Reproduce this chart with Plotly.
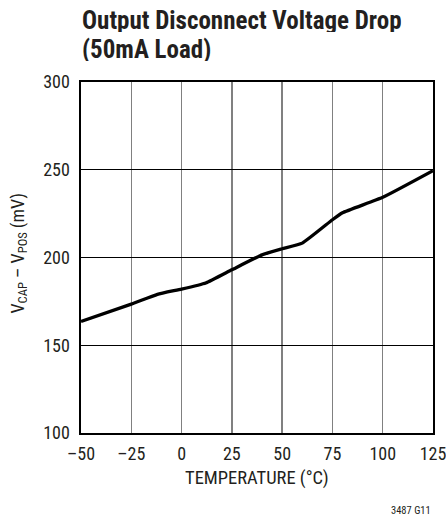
import plotly.graph_objects as go

temperature = [-50, -25, -12, 0, 12, 25, 40, 50, 60, 75, 80, 100, 125]
v_drop = [163.5, 173.4, 179.0, 182.0, 185.5, 193.0, 201.5, 205.0, 208.2, 221.5, 225.5, 234.3, 249.5]

x_tickvals = [-50, -25, 0, 25, 50, 75, 100, 125]
x_ticktext = ["–50", "–25", "0", "25", "50", "75", "100", "125"]
y_tickvals = [100, 150, 200, 250, 300]
y_ticktext = ["100", "150", "200", "250", "300"]

title_lines = ["Output Disconnect Voltage Drop", "(50mA Load)"]
x_title = "TEMPERATURE (°C)"
y_title = "V<sub>CAP</sub> – V<sub>POS</sub> (mV)"
fig_code = "3487 G11"

FONT = "Roboto Condensed, Roboto, sans-serif"
INK = "#231f20"

fig = go.Figure()
fig.add_trace(go.Scatter(
    x=temperature, y=v_drop, mode="lines",
    line=dict(color="black", width=3.3, shape="spline", smoothing=0.4),
    showlegend=False, hoverinfo="skip",
))

axis_common = dict(
    showgrid=True, showline=True, linecolor="black", linewidth=1.6, mirror=True,
    ticks="", zeroline=False, automargin=False, ticklabeloverflow="allow",
    tickfont=dict(family=FONT, size=18, color=INK),
)

fig.update_layout(
    width=446, height=516,
    margin=dict(l=81, r=13, t=82, b=83, autoexpand=False),
    paper_bgcolor="white", plot_bgcolor="white",
    font=dict(family=FONT, size=18, color=INK),
    xaxis=dict(range=[-50, 125], tickvals=x_tickvals, ticktext=x_ticktext,
               gridcolor="#808080", gridwidth=1.4, ticklabelstandoff=4, **axis_common),
    yaxis=dict(range=[100, 300], tickvals=y_tickvals, ticktext=y_ticktext,
               gridcolor="black", gridwidth=1.1, ticklabelstandoff=6, **axis_common),
    annotations=[
        dict(text="<b>" + title_lines[0] + "</b>", xref="paper", yref="paper",
             x=0, y=1.1756, xanchor="left", yanchor="middle", showarrow=False,
             height=24, borderpad=0,
             font=dict(family=FONT, size=25, color=INK)),
        dict(text="<b>" + title_lines[1] + "</b>", xref="paper", yref="paper",
             x=0, y=1.0926, xanchor="left", yanchor="middle", showarrow=False,
             height=24, borderpad=0,
             font=dict(family=FONT, size=25, color=INK)),
        dict(text=x_title, xref="paper", yref="paper", x=0.5, y=-0.1268,
             xanchor="center", yanchor="middle", showarrow=False,
             font=dict(family=FONT, size=18.5, color=INK)),
        dict(text=y_title, xref="paper", yref="paper", x=-0.1776, y=0.5128,
             xanchor="center", yanchor="middle", textangle=-90, showarrow=False,
             height=18, borderpad=0,
             font=dict(family=FONT, size=18, color=INK)),
        dict(text=fig_code, xref="paper", yref="paper", x=1.0, y=-0.2208,
             xanchor="right", yanchor="middle", showarrow=False,
             font=dict(family=FONT, size=10.5, color=INK)),
    ],
)

# remove the default page margin so the figure fills the 446x516 window exactly
page_fix = ("document.documentElement.style.overflow='hidden';"
            "document.body.style.margin='0';document.body.style.overflow='hidden';")

fig.write_html("out.html", post_script=page_fix,
               config={"displayModeBar": False, "staticPlot": True})
